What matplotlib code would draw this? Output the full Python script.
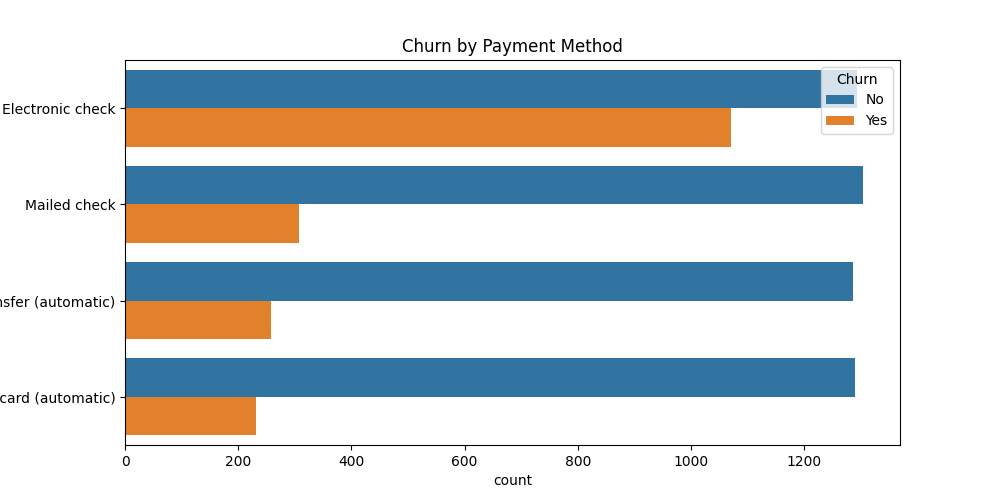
import matplotlib
matplotlib.use("Agg")
import matplotlib.pyplot as plt
import numpy as np

methods = ["Electronic check", "Mailed check", "Bank transfer (automatic)", "Credit card (automatic)"]
churn_no = [1294, 1304, 1286, 1290]
churn_yes = [1071, 308, 258, 232]

fig, ax = plt.subplots(figsize=(10, 5), dpi=100)
y = np.arange(len(methods))
ax.barh(y - 0.2, churn_no, height=0.4, color="#3274a1", label="No")
ax.barh(y + 0.2, churn_yes, height=0.4, color="#e1812c", label="Yes")

ax.set_yticks(y)
ax.set_yticklabels(methods)
ax.set_ylim(3.5, -0.5)
ax.set_xlabel("count")
ax.set_ylabel("")
ax.set_title("Churn by Payment Method")
ax.legend(title="Churn", loc="upper right")

fig.savefig("out.png")
